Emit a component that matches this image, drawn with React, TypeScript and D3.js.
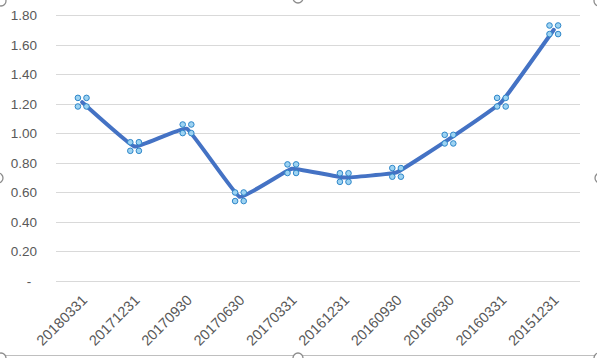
import React from "react";
import * as d3 from "d3";

const categories = ["20180331", "20171231", "20170930", "20170630", "20170331", "20161231", "20160930", "20160630", "20160331", "20151231"];
const values = [1.21, 0.91, 1.03, 0.57, 0.76, 0.7, 0.735, 0.96, 1.21, 1.7];
const yTicks = [0, 0.2, 0.4, 0.6, 0.8, 1.0, 1.2, 1.4, 1.6, 1.8];

const W = 597;
const H = 358;

export default function App() {
  const x = d3.scaleBand<string>().domain(categories).range([56, 580]);
  const y = d3.scaleLinear().domain([0, 1.8]).range([281, 15]);
  const cx = (c: string) => (x(c) as number) + x.bandwidth() / 2;
  const pts: [number, number][] = categories.map((c, i) => [cx(c), y(values[i])]);
  const line = d3.line().curve(d3.curveCardinal.tension(0.75));
  const path = line(pts) || "";
  const font = "'Liberation Sans', Arial, sans-serif";
  const handles = [
    [1, 1], [298, -2], [599, 1],
    [-2, 178], [600, 178],
    [1, 358], [298, 358], [599, 358],
  ];
  const offs = [[-4.3, -4.3], [4.3, -4.3], [-4.3, 4.3], [4.3, 4.3]];
  return (
    <div style={{ position: "fixed", left: 0, top: 0 }}>
      <svg width={W} height={H} style={{ display: "block", background: "#fff" }}>
        <rect x={0} y={0} width={W} height={H} fill="#fff" />
        {yTicks.map((t) => (
          <line key={t} x1={56} x2={580} y1={Math.round(y(t)) + 0.5} y2={Math.round(y(t)) + 0.5} stroke="#D9D9D9" strokeWidth={1} />
        ))}
        {yTicks.map((t) =>
          t === 0 ? (
            <text key={t} x={29} y={y(t) + 4.5} fontFamily={font} fontSize={13.5} fill="#595959" textAnchor="middle">-</text>
          ) : (
            <text key={t} x={37} y={y(t) + 5} fontFamily={font} fontSize={13.5} fill="#595959" textAnchor="end">{t.toFixed(2)}</text>
          )
        )}
        {categories.map((c) => (
          <text key={c} transform={`translate(${cx(c) + 6},301) rotate(-45)`} fontFamily={font} fontSize={14.5} fill="#595959" textAnchor="end">{c}</text>
        ))}
        <path d={path} fill="none" stroke="#4472C4" strokeWidth={4} strokeLinejoin="round" strokeLinecap="round" />
        {pts.map((p, i) => (
          <g key={i}>
            {offs.map((o, j) => (
              <circle key={j} cx={p[0] + o[0]} cy={p[1] + o[1]} r={2.8} fill="#9DD3F2" stroke="#2E86C9" strokeWidth={1} />
            ))}
          </g>
        ))}
        <line x1={0} x2={W} y1={355.5} y2={355.5} stroke="#BFBFBF" strokeWidth={1} />
        {handles.map((h, i) => (
          <circle key={i} cx={h[0]} cy={h[1]} r={5} fill="#fff" stroke="#8C8C8C" strokeWidth={1.3} />
        ))}
      </svg>
    </div>
  );
}
